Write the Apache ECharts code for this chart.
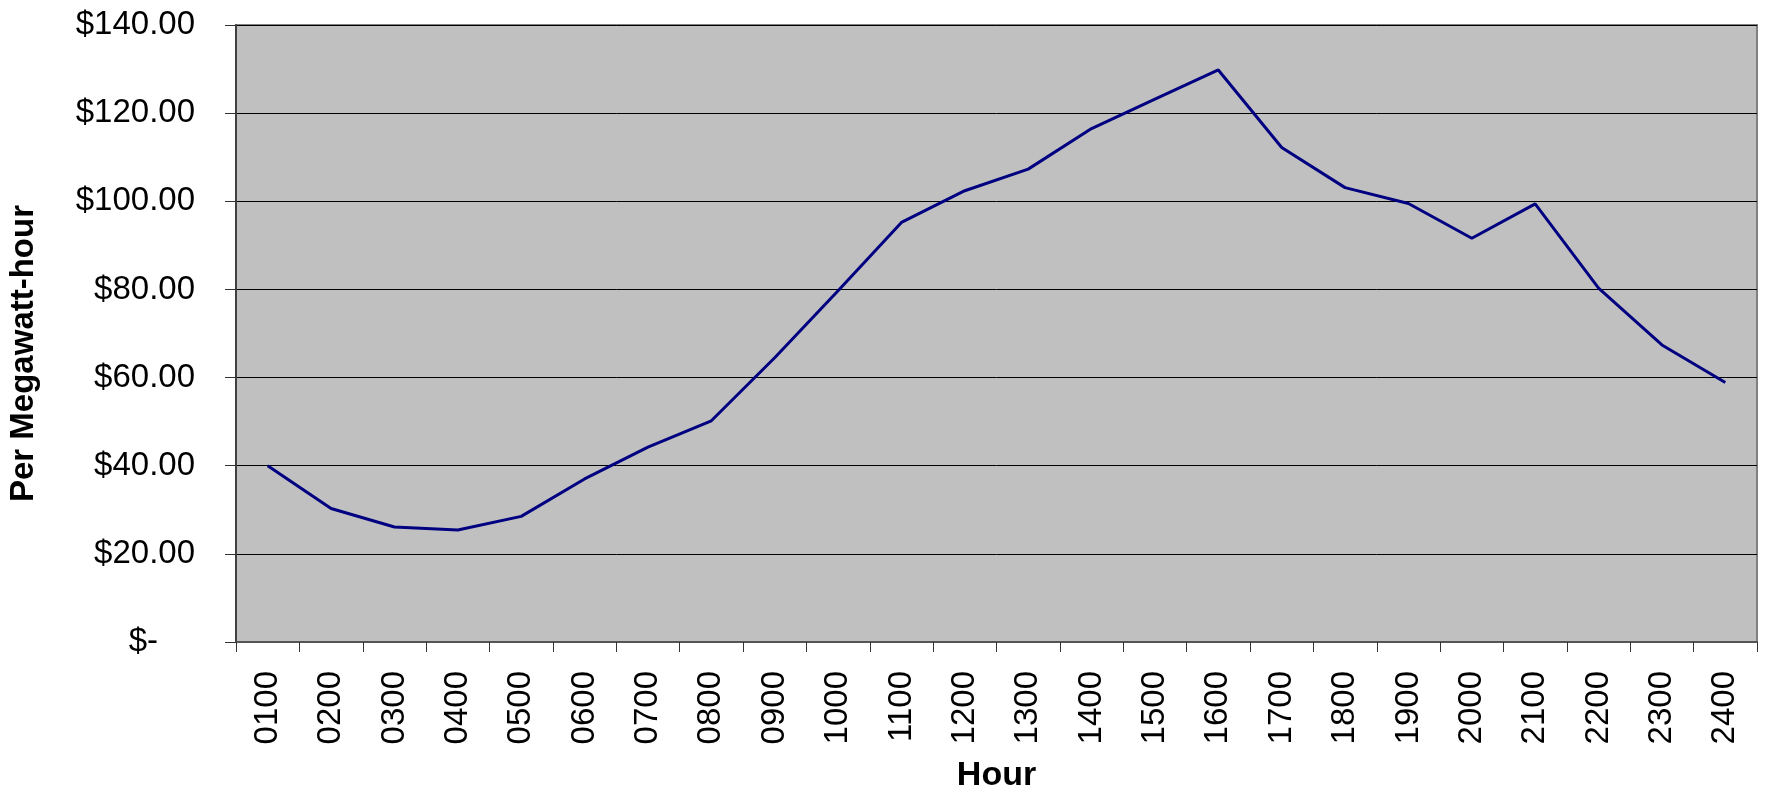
<!DOCTYPE html>
<html>
<head>
<meta charset="utf-8">
<script src="https://cdn.jsdelivr.net/npm/echarts@6/dist/echarts.min.js"></script>
<style>
  html, body { margin: 0; padding: 0; background: #fff; }
  #main { width: 1766px; height: 794px; }
</style>
</head>
<body>
<div id="main"></div>
<script>
// horas del dia y precio por megawatt-hora
var horas = ["0100", "0200", "0300", "0400", "0500", "0600", "0700", "0800",
    "0900", "1000", "1100", "1200", "1300", "1400", "1500", "1600",
    "1700", "1800", "1900", "2000", "2100", "2200", "2300", "2400"];
var precios = [40.0, 30.3, 26.1, 25.4, 28.5, 37.0, 44.2, 50.2,
    64.5, 79.7, 95.2, 102.4, 107.3, 116.5, 123.2, 129.8,
    112.2, 103.1, 99.5, 91.6, 99.4, 80.3, 67.4, 58.9];
var yMin = 0, yMax = 140, yPaso = 20;

var fuente = "'Liberation Sans', Arial, sans-serif";

var myChart = echarts.init(document.getElementById("main"));

const formatoDolar = (v) => {
    if (v === 0) return "{cero|$-}";
    return "$" + v.toFixed(2);
};

var option = {
    animation: false,
    grid: {
        left: 236,
        right: 9,
        top: 25,
        bottom: 152,
        outerBoundsMode: "none",
        show: true,
        backgroundColor: "#C0C0C0",
        borderColor: "#808080",
        borderWidth: 2
    },
    xAxis: {
        type: "category",
        data: horas,
        boundaryGap: true,
        name: "Hour",
        nameLocation: "middle",
        nameGap: 117,
        nameTextStyle: { fontFamily: fuente, fontSize: 34, fontWeight: "bold", color: "#000" },
        axisLine: { lineStyle: { color: "#555", width: 2 } },
        axisTick: { show: true, length: 10, lineStyle: { color: "#333", width: 1 } },
        axisLabel: {
            rotate: 90,
            margin: 29,
            fontFamily: fuente,
            fontSize: 33,
            color: "#000"
        },
        splitLine: { show: false }
    },
    yAxis: {
        type: "value",
        min: yMin,
        max: yMax,
        interval: yPaso,
        name: "Per Megawatt-hour",
        nameLocation: "middle",
        nameGap: 196,
        nameTextStyle: {
            fontFamily: fuente, fontSize: 33, fontWeight: "bold", color: "#000",
            padding: [0, 40, 0, 0]
        },
        axisLine: { show: true, lineStyle: { color: "#404040", width: 2 } },
        axisTick: { show: true, length: 11, lineStyle: { color: "#333", width: 1 } },
        axisLabel: {
            margin: 41,
            fontFamily: fuente,
            fontSize: 33,
            color: "#000",
            formatter: formatoDolar,
            rich: {
                cero: { fontFamily: fuente, fontSize: 33, color: "#000", padding: [0, 37, 0, 0] }
            }
        },
        splitLine: { show: true, lineStyle: { color: "#000", width: 1 } }
    },
    series: [{
        type: "line",
        data: precios,
        showSymbol: false,
        lineStyle: { color: "#000080", width: 3 },
        itemStyle: { color: "#000080" }
    }]
};

myChart.setOption(option);
</script>
</body>
</html>
